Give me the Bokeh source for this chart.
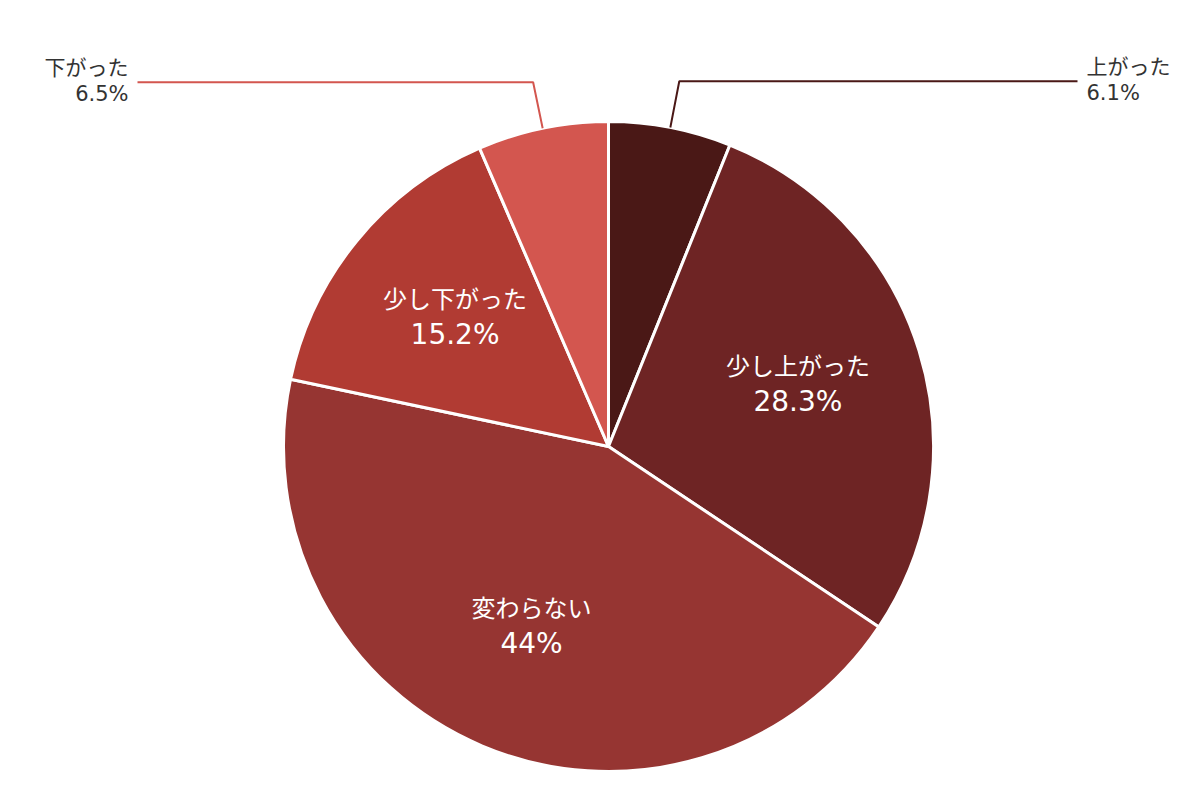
import math
from bokeh.plotting import figure
from bokeh.models import Range1d, ColumnDataSource
from bokeh.core.properties import value
from bokeh.embed import file_html
from bokeh.resources import INLINE

# slices, clockwise from 12 o'clock
labels = ["上がった", "少し上がった", "変わらない", "少し下がった", "下がった"]
shares = [6.1, 28.3, 44.0, 15.2, 6.5]
pct_text = ["6.1%", "28.3%", "44%", "15.2%", "6.5%"]
colors = ["#4a1816", "#6e2424", "#963532", "#b13b33", "#d3564f"]
outside = [True, False, False, False, True]

W, H = 1184, 784
cx, cy, R = 608, 354, 325
JP = value("Noto Sans CJK JP")
NUM = value("DejaVu Sans")

p = figure(width=W, height=H, output_backend="svg", toolbar_location=None,
           x_range=Range1d(0, W), y_range=Range1d(16, 16 + H),
           x_axis_type=None, y_axis_type=None, min_border=0)
p.grid.visible = False
p.outline_line_color = None
p.background_fill_color = "white"

total = sum(shares)
starts, ends, mids = [], [], []
acc = 0.0
for s in shares:
    a0 = acc / total
    acc += s
    a1 = acc / total
    starts.append(math.pi / 2 - 2 * math.pi * a0)
    ends.append(math.pi / 2 - 2 * math.pi * a1)
    mids.append(math.pi / 2 - 2 * math.pi * (a0 + a1) / 2)

src = ColumnDataSource(dict(start=starts, end=ends, color=colors))
p.wedge(x=cx, y=cy, radius=R, start_angle="start", end_angle="end",
        direction="clock", fill_color="color", line_color="white",
        line_width=3, source=src)

# inside labels
in_x, in_y1, in_y2, in_lab, in_pct = [], [], [], [], []
# outside labels with leader lines
lx, ly, lcol = [], [], []
ox, oy1, oy2, olab, opct, oalign = [], [], [], [], [], []
for lab, pt, col, out, m in zip(labels, pct_text, colors, outside, mids):
    if out:
        x0 = cx + R * math.cos(m)
        y0 = cy + R * math.sin(m)
        xe = cx + 372 * math.cos(m)
        ye = cy + 372 * math.sin(m)
        right = math.cos(m) > 0
        xend = 1077 if right else 137
        lx.append([x0, xe, xend])
        ly.append([y0, ye, ye])
        lcol.append(col)
        ox.append(xend + 9 if right else xend - 9)
        oy1.append(ye + 16)
        oy2.append(ye - 12)
        olab.append(lab)
        opct.append(pt)
        oalign.append("left" if right else "right")
    else:
        rr = 0.61 * R
        x = cx + rr * math.cos(m)
        y = cy + rr * math.sin(m)
        in_x.append(x)
        in_y1.append(y + 23)
        in_y2.append(y - 14)
        in_lab.append(lab)
        in_pct.append(pt)

p.multi_line(xs=lx, ys=ly, line_color=lcol, line_width=2)

p.text(x=in_x, y=in_y1, text=in_lab, text_color="white", text_font=JP,
       text_font_size="24px", text_align="center", text_baseline="middle")
p.text(x=in_x, y=in_y2, text=in_pct, text_color="white", text_font=NUM,
       text_font_size="28px", text_align="center", text_baseline="middle")

osrc = ColumnDataSource(dict(x=ox, y1=oy1, y2=oy2, lab=olab, pct=opct, align=oalign))
p.text(x="x", y="y1", text="lab", text_align="align", text_color="#333333",
       text_font=JP, text_font_size="21px", text_baseline="middle", source=osrc)
p.text(x="x", y="y2", text="pct", text_align="align", text_color="#333333",
       text_font=NUM, text_font_size="21px", text_baseline="middle", source=osrc)

open("out.html", "w").write(file_html(p, INLINE))
